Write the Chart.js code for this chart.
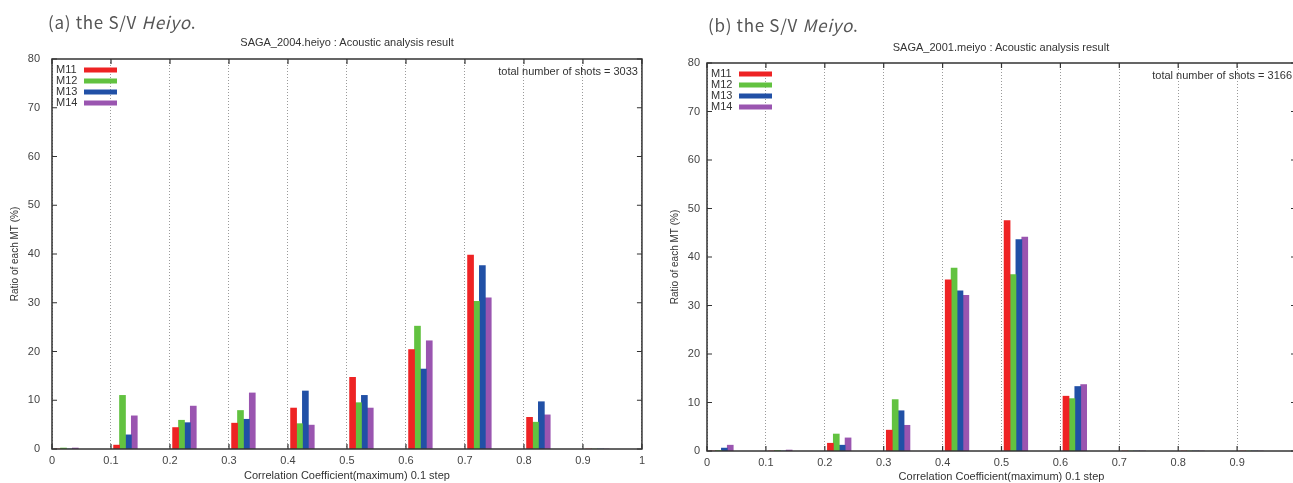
<!DOCTYPE html>
<html>
<head>
<meta charset="utf-8">
<script src="https://cdn.jsdelivr.net/npm/chart.js@4.4.1/dist/chart.umd.min.js"></script>
<style>
  html, body { margin:0; padding:0; background:#fff; width:1293px; height:483px; overflow:hidden; }
  .panel { position:absolute; top:0; height:483px; }
  .cap { position:absolute; font-family:"Noto Sans CJK JP","Noto Sans",sans-serif; font-size:17px; letter-spacing:0.7px; line-height:1; color:#555; white-space:nowrap; }
  .ttl { position:absolute; font-family:"Liberation Sans",Arial,sans-serif; font-size:11px; line-height:12px; color:#333; transform:translateX(-50%); white-space:nowrap; }
</style>
</head>
<body>
<div class="panel" style="left:0;width:650px"><canvas id="heiyo"></canvas></div>
<div class="panel" style="left:650px;width:660px"><canvas id="meiyo"></canvas></div>
<div class="cap" style="left:48px;top:13px">(a) the S/V <i>Heiyo</i>.</div>
<div class="cap" style="left:708px;top:16px">(b) the S/V <i>Meiyo</i>.</div>
<div class="ttl" style="left:347px;top:36px">SAGA_2004.heiyo : Acoustic analysis result</div>
<div class="ttl" style="left:1001px;top:41px">SAGA_2001.meiyo : Acoustic analysis result</div>
<script>
// bins of the correlation coefficient (start of each 0.1 step)
const bins = [0, 0.1, 0.2, 0.3, 0.4, 0.5, 0.6, 0.7, 0.8, 0.9];
const series = ['M11', 'M12', 'M13', 'M14'];
const colors = ['#ee2324', '#62c240', '#2150a6', '#9a55b0'];

// (a) S/V Heiyo, ratio (%)
const heiyoM11 = [0, 0.8, 4.4, 5.3, 8.4, 14.7, 20.4, 39.8, 6.5, 0];
const heiyoM12 = [0.2, 11.0, 5.9, 7.9, 5.2, 9.5, 25.2, 30.3, 5.5, 0];
const heiyoM13 = [0, 2.9, 5.4, 6.1, 11.9, 11.0, 16.4, 37.6, 9.7, 0];
const heiyoM14 = [0.2, 6.8, 8.8, 11.5, 4.9, 8.4, 22.2, 31.0, 7.0, 0];
const heiyoShots = 3033;

// (b) S/V Meiyo, ratio (%)
const meiyoM11 = [0, 0, 1.6, 4.3, 35.3, 47.5, 11.3, 0, 0, 0];
const meiyoM12 = [0.1, 0.1, 3.5, 10.6, 37.7, 36.4, 10.8, 0, 0, 0];
const meiyoM13 = [0.6, 0, 1.2, 8.3, 33.0, 43.6, 13.3, 0, 0, 0];
const meiyoM14 = [1.2, 0.2, 2.7, 5.3, 32.1, 44.1, 13.7, 0, 0, 0];
const meiyoShots = 3166;

const FONT = '"Liberation Sans", Arial, sans-serif';

// gnuplot style frame, mirrored ticks, key and label
const gnuFrame = {
  id: 'gnuFrame',
  afterDraw(chart, args, opts) {
    const { ctx, chartArea: a, scales: { x, y } } = chart;
    ctx.save();
    ctx.strokeStyle = '#333';
    ctx.lineWidth = 1.2;
    ctx.beginPath();
    x.ticks.forEach(t => {
      const px = x.getPixelForValue(t.value);
      ctx.moveTo(px, a.bottom); ctx.lineTo(px, a.bottom - 5);
      ctx.moveTo(px, a.top); ctx.lineTo(px, a.top + 5);
    });
    y.ticks.forEach(t => {
      const py = y.getPixelForValue(t.value);
      ctx.moveTo(a.left, py); ctx.lineTo(a.left + 5, py);
      ctx.moveTo(a.right, py); ctx.lineTo(a.right - 5, py);
    });
    ctx.stroke();
    ctx.lineWidth = 1.5;
    ctx.strokeRect(a.left, a.top, a.right - a.left, a.bottom - a.top);

    // key
    ctx.font = '11px ' + FONT;
    ctx.textBaseline = 'middle';
    ctx.textAlign = 'left';
    chart.data.datasets.forEach((ds, i) => {
      const yy = a.top + 11 + i * 11;
      ctx.fillStyle = '#333';
      ctx.fillText(ds.label, a.left + 4, yy);
      ctx.strokeStyle = ds.backgroundColor;
      ctx.lineWidth = 5;
      ctx.beginPath();
      ctx.moveTo(a.left + 32, yy);
      ctx.lineTo(a.left + 65, yy);
      ctx.stroke();
    });
    ctx.fillStyle = '#333';
    ctx.textAlign = 'right';
    ctx.fillText(opts.note, a.right - 4, a.top + 13);
    ctx.restore();
  }
};

function makeChart(id, vals, shots, g) {
  const datasets = series.map((name, i) => ({
    label: name,
    data: bins.map((b, j) => ({ x: b + 0.0095 + 0.01 * i, y: vals[i][j] })),
    backgroundColor: colors[i],
    borderWidth: 0,
    grouped: false,
    barThickness: 6
  }));

  return new Chart(document.getElementById(id), {
    type: 'bar',
    data: { datasets },
    plugins: [gnuFrame],
    options: {
      responsive: true,
      maintainAspectRatio: false,
      animation: false,
      layout: { padding: { top: g.top, right: g.right, left: 0, bottom: 0 } },
      scales: {
        x: {
          type: 'linear',
          min: 0, max: 1,
          offset: false,
          afterFit: s => { s.height = g.xh; },
          ticks: { stepSize: 0.1, autoSkip: false, maxRotation: 0, padding: 5,
                   color: '#444', font: { family: FONT, size: 11 },
                   callback: v => String(+v.toFixed(1)) },
          grid: { color: '#9a9a9a', lineWidth: 1, drawTicks: false, offset: false },
          border: { display: false, dash: [1, 2] },
          title: { display: true, text: 'Correlation Coefficient(maximum) 0.1 step',
                   color: '#333', font: { family: FONT, size: 11, lineHeight: 1.1 },
                   padding: { top: 0, bottom: g.xtp } }
        },
        y: {
          min: 0, max: 80,
          afterFit: s => { s.width = g.yw; },
          ticks: { stepSize: 10, padding: g.ytick, color: '#444', font: { family: FONT, size: 11 } },
          grid: { display: false, drawTicks: false },
          border: { display: false },
          title: { display: true, text: 'Ratio of each MT (%)',
                   color: '#333', font: { family: FONT, size: 10 },
                   padding: { top: g.ytp, bottom: 0 } }
        }
      },
      plugins: {
        legend: { display: false },
        tooltip: { enabled: false },
        gnuFrame: { note: 'total number of shots = ' + shots }
      }
    }
  });
}

makeChart('heiyo', [heiyoM11, heiyoM12, heiyoM13, heiyoM14], heiyoShots,
  { top: 59, right: 8, xh: 34, yw: 52, ytick: 12, ytp: 9, xtp: 1 });
makeChart('meiyo', [meiyoM11, meiyoM12, meiyoM13, meiyoM14], meiyoShots,
  { top: 63, right: 14, xh: 32, yw: 57, ytick: 7, ytp: 19, xtp: 0 });
</script>
</body>
</html>
